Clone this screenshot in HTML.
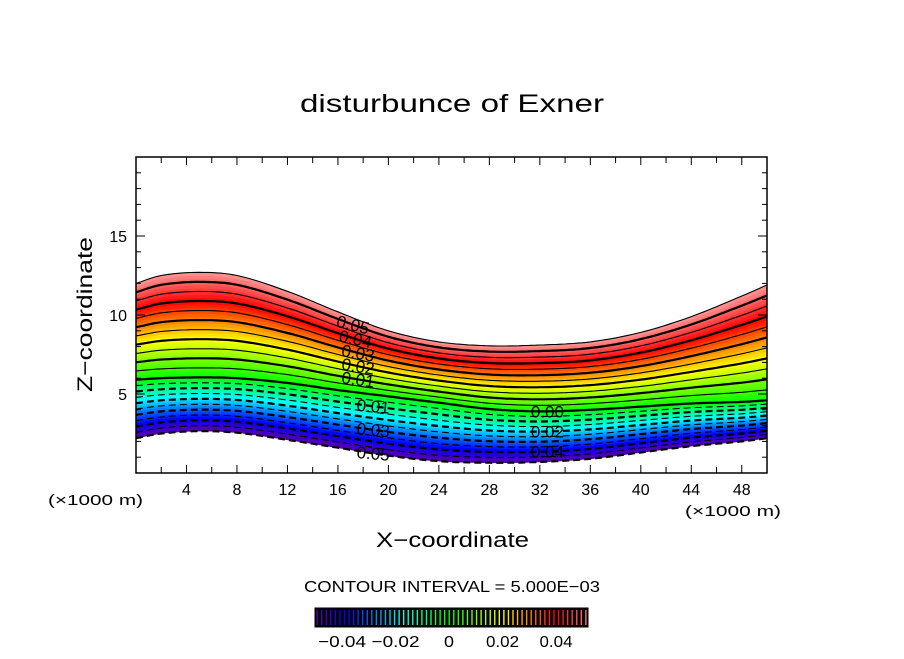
<!DOCTYPE html>
<html><head><meta charset="utf-8"><style>
body{margin:0;background:#fff;}
svg text{font-family:"Liberation Sans",sans-serif;}
</style></head><body>
<svg id="c" width="904" height="654" viewBox="0 0 904 654">
<text x="300" y="112" font-size="25" textLength="304" lengthAdjust="spacingAndGlyphs">disturbunce of Exner</text>
<g id="plot"></g>
<text x="376" y="547" font-size="21" textLength="153" lengthAdjust="spacingAndGlyphs">X−coordinate</text>
<text transform="translate(92,392) rotate(-90)" font-size="21" textLength="155" lengthAdjust="spacingAndGlyphs">Z−coordinate</text>
<text x="48" y="505" font-size="15" textLength="95" lengthAdjust="spacingAndGlyphs">(×1000 m)</text>
<text x="685" y="516" font-size="15" textLength="96" lengthAdjust="spacingAndGlyphs">(×1000 m)</text>
<text x="304" y="592" font-size="16" textLength="296" lengthAdjust="spacingAndGlyphs">CONTOUR INTERVAL = 5.000E−03</text>
<g id="cbar"></g>
</svg>
<script>
const xs=[0,2,5,8,12,16,20,24,28,32,36,40,44,48,50];
const topZ=[12,12.5,12.7,12.5,11.5,10.2,9,8.3,8.05,8.1,8.3,8.9,9.9,11.2,11.9];
const zeroZ=[5.9,6.0,6.05,6.0,5.7,5.25,4.85,4.45,4.05,3.9,4.0,4.2,4.4,4.5,4.6];
const botZ=[2.2,2.5,2.65,2.55,2.1,1.6,1.1,0.75,0.65,0.7,0.9,1.3,1.7,2.0,2.2];
const lineLabels=[[0.05,17.2,"0.05",14],[0.04,17.4,"0.04",12],[0.03,17.6,"0.03",10],[0.02,17.6,"0.02",9],[0.01,17.6,"0.01",8],[-0.01,18.8,"0.01",5],[-0.03,18.8,"0.03",5],[-0.05,18.8,"0.05",5],[0,32.6,"0.00",0],[-0.02,32.6,"0.02",0],[-0.04,32.6,"0.04",0]];
const xTicks=[4,8,12,16,20,24,28,32,36,40,44,48];
const yTicks=[5,10,15];
const cbTicks=[-0.04,-0.02,0,0.02,0.04];
const cbLabels=["−0.04","−0.02","0","0.02","0.04"];

const NS="http://www.w3.org/2000/svg";
const X0=136,X1=767,Y0=473,Y1=157;
const sx=v=>X0+(v/50)*(X1-X0), sy=v=>Y0-(v/20)*(Y0-Y1);
function mk(t,a,p){const e=document.createElementNS(NS,t);for(const k in a)e.setAttribute(k,a[k]);p.appendChild(e);return e;}
function spl(xa,ya,x){const n=xa.length;let i=0;while(i<n-2&&x>xa[i+1])i++;
 const h=xa[i+1]-xa[i],t=(x-xa[i])/h;
 const m=j=>{if(j<=0)return (ya[1]-ya[0])/(xa[1]-xa[0]);if(j>=n-1)return (ya[n-1]-ya[n-2])/(xa[n-1]-xa[n-2]);return (ya[j+1]-ya[j-1])/(xa[j+1]-xa[j-1]);};
 const t2=t*t,t3=t2*t;
 return (2*t3-3*t2+1)*ya[i]+(t3-2*t2+t)*h*m(i)+(-2*t3+3*t2)*ya[i+1]+(t3-t2)*h*m(i+1);}
function zAt(l,x){const b=spl(xs,botZ,x),z0=spl(xs,zeroZ,x),t=spl(xs,topZ,x);
 if(l<=0){return b+(l+0.05)/0.05*(z0-b);} return z0+l/0.055*(t-z0);}
const stops=[[-0.055,[110,0,150]],[-0.048,[80,0,180]],[-0.038,[0,0,255]],[-0.028,[0,120,255]],[-0.018,[0,255,255]],[-0.008,[0,255,120]],[0,[0,255,0]],[0.015,[190,255,0]],[0.02,[255,255,0]],[0.03,[255,130,0]],[0.04,[255,0,0]],[0.055,[255,150,150]]];
function col(v){for(let i=0;i<stops.length-1;i++){if(v<=stops[i+1][0]){const t=Math.max(0,(v-stops[i][0])/(stops[i+1][0]-stops[i][0]));const c=stops[i][1].map((a,j)=>Math.round(a+t*(stops[i+1][1][j]-a)));return `rgb(${c})`;}}return 'rgb(255,150,150)';}
const plot=document.getElementById('plot');
const N=150;
function linePts(l){let p=[];for(let i=0;i<=N;i++){const x=50*i/N;p.push([sx(x).toFixed(1),sy(zAt(l,x)).toFixed(1)]);}return p;}
const sub=3;
for(let k=0;k<21*sub;k++){
  const l0=-0.05+k*0.005/sub,l1=l0+0.005/sub;
  const a=linePts(l0),b=linePts(l1).reverse();
  const e=mk('polygon',{points:a.concat(b).map(p=>p.join(',')).join(' '),fill:col((l0+l1)/2),stroke:col((l0+l1)/2),'stroke-width':0.6},plot);
  
  
}
for(let k=0;k<=21;k++){
  const l=Math.round((-0.05+k*0.005)*1000)/1000;
  const thick=Math.abs(Math.round(l*1000)%10)===0;
  const e=mk('polyline',{points:linePts(l).map(p=>p.join(',')).join(' '),fill:'none',stroke:'#000','stroke-width':thick?2.2:1.1,'stroke-dasharray':l<0?'7,4':'none'},plot);
  
  
}
lineLabels.forEach(d=>{
  const x=d[1],z=zAt(d[0],x);
  const px=sx(x),py=sy(z);
  const e=mk('text',{x:px,y:py+6,'font-size':17,'text-anchor':'middle',transform:`rotate(${d[3]},${px},${py})`},plot);
  e.textContent=d[2];
  
  
});
mk('rect',{x:X0,y:Y1,width:X1-X0,height:Y0-Y1,fill:'none',stroke:'#000','stroke-width':1.5},plot);
for(let v=2;v<50;v+=2){const L=v%4===0?8:6;mk('line',{x1:sx(v),x2:sx(v),y1:Y0,y2:Y0-L,stroke:'#000'},plot);mk('line',{x1:sx(v),x2:sx(v),y1:Y1,y2:Y1+L,stroke:'#000'},plot);}
for(let v=1;v<20;v++){const L=v%5===0?9:5;mk('line',{x1:X0,x2:X0+L,y1:sy(v),y2:sy(v),stroke:'#000'},plot);mk('line',{x1:X1,x2:X1-L,y1:sy(v),y2:sy(v),stroke:'#000'},plot);}
xTicks.forEach(v=>{const e=mk('text',{x:sx(v),y:Y0+22,'font-size':16,'text-anchor':'middle'},plot);e.textContent=v;});
yTicks.forEach(v=>{const e=mk('text',{x:X0-9,y:sy(v)+6,'font-size':16,'text-anchor':'end'},plot);e.textContent=v;});
const cb=document.getElementById('cbar');
const CX0=315,CX1=588,CY0=608,CY1=627;
const cv=v=>449+v/0.02*53.5;
const vmin=(CX0-449)/53.5*0.02, vmax=(CX1-449)/53.5*0.02;
mk('rect',{x:CX0,y:CY0,width:CX1-CX0,height:CY1-CY0,fill:'#000',stroke:'#000'},cb);
for(let i=0;i<60;i++){const v=vmin+0.0008+i*(vmax-vmin-0.0016)/59;const e=mk('line',{x1:cv(v),x2:cv(v),y1:CY0+2,y2:CY1-2,stroke:col(v),'stroke-width':1.4},cb);}
cbTicks.forEach((v,i)=>{const s=cbLabels[i];const w=s.length>=5?48:(s.length===4?33:10);
 const e=mk('text',{x:cv(v)-w/2,y:CY1+20,'font-size':16,textLength:w,lengthAdjust:'spacingAndGlyphs'},cb);e.textContent=s;});
</script>
</body></html>
